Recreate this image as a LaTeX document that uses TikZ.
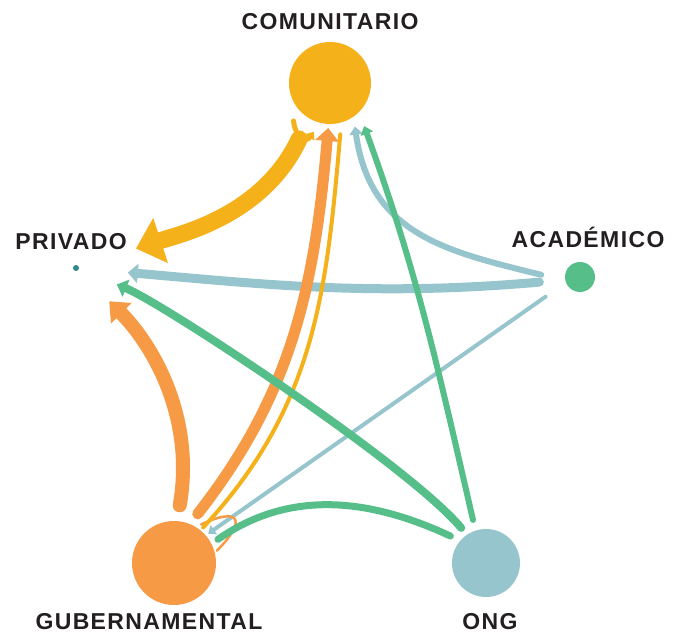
\documentclass[tikz,border=0pt]{standalone}
\usepackage{fontspec}
\setmainfont{Liberation Sans}[LetterSpace=6]
\usepackage{xcolor}
\usepackage{tikz}
\usetikzlibrary{positioning, arrows.meta}

\definecolor{comcol}{HTML}{F5B11A}
\definecolor{gubcol}{HTML}{F69A46}
\definecolor{ongcol}{HTML}{96C5CD}
\definecolor{acacol}{HTML}{56BF89}
\definecolor{pricol}{HTML}{2B8A8C}
\definecolor{txtcol}{HTML}{231F20}

\begin{document}
\begin{tikzpicture}[x=1pt, y=1pt,
    actor/.style={circle, inner sep=0pt, outer sep=0pt},
    lbl/.style={inner sep=0pt, text=txtcol, font=\fontsize{23}{24}\selectfont\bfseries},
    link/.style={line cap=round}]
    \useasboundingbox (0,0) rectangle (678,635);

    \node[actor, fill=comcol, minimum size=82pt] (C) at (330,552) {};
    \node[actor, fill=pricol, minimum size=6pt] (P) at (76,367) {};
    \node[actor, fill=acacol, minimum size=30pt] (A) at (580,358) {};
    \node[actor, fill=gubcol, minimum size=84pt] (G) at (174,72) {};
    \node[actor, fill=ongcol, minimum size=68pt] (O) at (486,72) {};

    \node[lbl, above=12pt of C] (lC) {COMUNITARIO};
    \node[lbl, above=15pt of P, xshift=-5pt] (lP) {PRIVADO};
    \node[lbl, above=14pt of A, xshift=8pt] (lA) {ACADÉMICO};
    \node[lbl, below=8pt of G, xshift=-25pt] (lG) {GUBERNAMENTAL};
    \node[lbl, below=16pt of O, xshift=4pt] (lO) {ONG};

    % academico
    \draw[link, ongcol, line width=9pt, -{Triangle[length=10pt,width=19pt]}, shorten <=26pt, shorten >=52pt]
        (A.191) to[out=185, in=355] (P.center);
    \draw[link, ongcol, line width=6pt, -{Triangle[length=8pt,width=13pt]}, shorten <=25pt, shorten >=10pt]
        (A.195) to[out=166, in=278, looseness=1.15] (C.305);
    \draw[link, ongcol, line width=4pt, -{Triangle[length=7pt,width=11pt]}, shorten <=25pt, shorten >=3pt]
        (A.201) -- (G.41);

    % gubernamental
    \draw[link, gubcol, line width=11pt, -{Triangle[length=13pt,width=23pt]}, shorten <=13pt, shorten >=4pt]
        (G.68) to[out=52, in=265] (C.268);
    \draw[link, gubcol, line width=14pt, -{Triangle[length=17pt,width=28pt]}, shorten <=16pt, shorten >=47pt]
        (G.86) to[out=80, in=315] (P.center);
    \draw[link, gubcol, line width=2.5pt, shorten <=6pt, shorten >=3pt]
        (G.59) .. controls +(25:50) and +(45:45) .. (G.14);

    % comunitario
    \draw[link, comcol, line width=4pt, shorten <=12pt, shorten >=4pt]
        (C.286) to[out=265, in=47] (G.51);
    \draw[link, comcol, line width=17pt, -{Triangle[length=26pt,width=46pt]}, shorten <=23pt, shorten >=63pt]
        (C.239) to[out=245, in=18] (P.center);
    \draw[link, comcol, line width=5pt, -{Triangle[length=7pt,width=11pt]}, shorten <=24pt, shorten >=11pt]
        (C.200) .. controls +(275:40) and +(235:25) .. (C.256);

    % ong
    \draw[link, acacol, line width=8pt, -{Triangle[length=10pt,width=18pt]}, shorten <=9pt, shorten >=44pt]
        (O.124) to[out=130, in=338, looseness=0.5] (P.center);
    \draw[link, acacol, line width=6pt, -{Triangle[length=8pt,width=13pt]}, shorten <=11pt, shorten >=15pt]
        (O.108) to[out=103, in=290] (C.315);
    \draw[link, acacol, line width=7pt, shorten <=11pt, shorten >=8pt]
        (O.139) to[out=155, in=35] (G.27);
\end{tikzpicture}
\end{document}
